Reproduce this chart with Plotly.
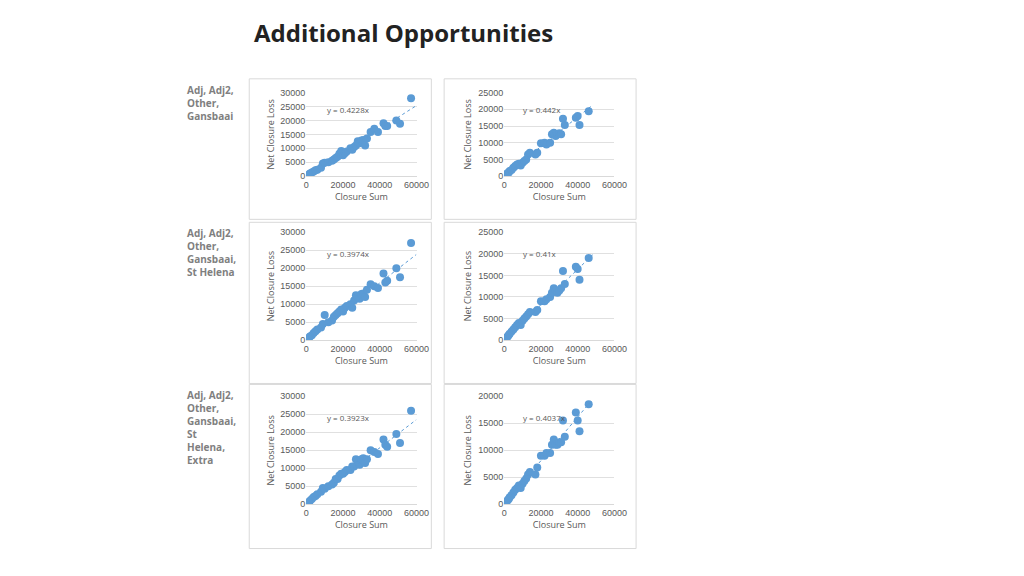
import plotly.graph_objects as go

title = "Additional Opportunities"
row_labels = ["Adj, Adj2,<br>Other,<br>Gansbaai",
              "Adj, Adj2,<br>Other,<br>Gansbaai,<br>St Helena",
              "Adj, Adj2,<br>Other,<br>Gansbaai,<br>St<br>Helena,<br>Extra"]

L_x = [500,1000,1500,2000,3000,4000,5000,6000,8000,9000,10000,12000,14000,15000,16000,17000,18000,19000,20000,21000,22000,24000,25000,26000,27000,28000,29000,30000,31000,32000,33000,35000,37000,39000,42000,43000,44000,49000,51000,57000]
L1_y = [200,400,700,900,1300,1700,2100,2300,3000,4500,4800,5000,5500,6000,6500,7000,8000,9000,7500,8200,8800,10000,9500,10500,11000,12500,11800,12800,13000,11000,13500,15800,17000,15800,19000,18000,18000,20000,18800,28000]
L2_y = [200,500,800,1000,1400,2000,2500,3000,3500,4500,7000,5000,5500,6500,7000,7500,8000,8500,8000,9000,9500,10000,9000,11000,12500,12000,11500,12800,13000,12000,14000,15500,15000,14500,18500,16000,16500,20000,17500,27000]
L3_y = [200,400,700,1000,1500,2000,2300,2800,3500,4500,4300,5000,5500,6000,7000,7000,8000,8500,8500,9000,9500,9500,10500,10500,12500,12000,11000,12500,12800,11500,12500,15000,14500,14000,18000,16500,16000,19500,17000,26000]

R_x = [500,800,1000,1500,2000,2500,3000,4000,5000,6000,7000,8000,9000,10000,11000,12000,13000,14000,17000,18000,20000,22000,23000,25000,26000,27000,28000,29000,30000,31000,32000,33000,39000,40000,41000,46000]
R1_y = [200,300,500,700,900,1100,1500,1800,2500,3000,3500,3700,3200,4000,4500,5000,6500,7000,6500,7000,9800,10000,9500,10000,12500,13000,12000,12500,12800,12500,17200,15300,17500,18000,15300,19400]
R2_y = [200,300,500,700,900,1200,1500,2000,2500,3000,3500,4000,3500,4500,5000,5500,6000,6500,6500,7000,9000,9000,9500,10000,11000,12000,11500,11000,11500,12000,16000,13000,17000,16500,14000,19000]
R3_y = [150,250,400,600,800,1000,1300,1700,2200,2700,3000,3500,3000,3800,4300,4800,5500,6000,5500,6800,9000,9000,9500,9500,11000,12000,11000,11000,11500,11500,15500,12500,17000,15500,13500,18500]

slopes = [[0.4228, 0.442], [0.3974, 0.41], [0.3923, 0.4037]]
eqs = [["y = 0.4228x", "y = 0.442x"], ["y = 0.3974x", "y = 0.41x"], ["y = 0.3923x", "y = 0.4037x"]]
ymax = [[30000, 25000], [30000, 25000], [30000, 20000]]
data = [[(L_x, L1_y), (R_x, R1_y)], [(L_x, L2_y), (R_x, R2_y)], [(L_x, L3_y), (R_x, R3_y)]]

OFF = 8
def px(v): return (v - OFF) / 1024
def py(v): return 1 - (v - OFF) / 576

xdom = [[px(308), px(420)], [px(509), px(621)]]
ydom = [[py(174), py(89)], [py(341), py(231)], [py(508), py(398)]]
panel_x = [[250, 435], [448, 643]]
panel_y = [[75, 218], [221, 385], [386, 553]]

fig = go.Figure()
layout = {}
shapes = []
ann = []
blue = "#5b9bd5"
gray = "#595959"
k = 0
for r in range(3):
    for c in range(2):
        k += 1
        xa = "x" if k == 1 else f"x{k}"
        ya = "y" if k == 1 else f"y{k}"
        xs, ys = data[r][c]
        fig.add_trace(go.Scatter(x=xs, y=ys, mode="markers", xaxis=xa, yaxis=ya,
                                 marker=dict(color=blue, size=8), showlegend=False))
        fig.add_trace(go.Scatter(x=[0, max(xs) * 1.05], y=[0, slopes[r][c] * max(xs) * 1.05], mode="lines",
                                 xaxis=xa, yaxis=ya, line=dict(color=blue, width=1, dash="dot"),
                                 showlegend=False))
        tick = dict(size=9, color=gray, family="Liberation Sans")
        layout["xaxis" if k == 1 else f"xaxis{k}"] = dict(
            domain=xdom[c], anchor=ya, range=[0, 60000], dtick=20000, tickfont=tick,
            tickformat="d", showgrid=False, zeroline=False, showline=True, linecolor="#d9d9d9",
            title=dict(text="Closure Sum", font=dict(size=9, color=gray), standoff=4))
        layout["yaxis" if k == 1 else f"yaxis{k}"] = dict(
            domain=ydom[r], anchor=xa, range=[0, ymax[r][c]], dtick=5000, tickfont=tick,
            tickformat="d", showgrid=True, gridcolor="#e0e0e0", zeroline=False,
            title=dict(text="Net Closure Loss", font=dict(size=9, color=gray), standoff=4))
        shapes.append(dict(type="rect", xref="paper", yref="paper",
                           x0=px(panel_x[c][0]), x1=px(panel_x[c][1]),
                           y0=py(panel_y[r][1]), y1=py(panel_y[r][0]),
                           line=dict(color="#d9d9d9", width=1)))
        ann.append(dict(text=eqs[r][c], xref=xa, yref=ya, x=10000 if c == 0 else 9000,
                        y=ymax[r][c] * 0.8, showarrow=False, xanchor="left",
                        font=dict(size=8, color=gray)))
    ann.append(dict(text="<b>" + row_labels[r] + "</b>", xref="paper", yref="paper", x=px(185),
                    y=py(panel_y[r][0] + 2), xanchor="left", yanchor="top", align="left",
                    showarrow=False, font=dict(size=10, color="#7f7f7f", family="Open Sans")))
ann.append(dict(text="<b>" + title + "</b>", xref="paper", yref="paper", x=px(253), y=py(28),
                xanchor="left", yanchor="middle", showarrow=False,
                font=dict(size=24, color="#222", family="Open Sans")))

fig.update_layout(width=1024, height=576, margin=dict(l=0, r=0, t=0, b=0),
                  paper_bgcolor="white", plot_bgcolor="white", shapes=shapes, annotations=ann,
                  **layout)
fig.write_html("out.html")
